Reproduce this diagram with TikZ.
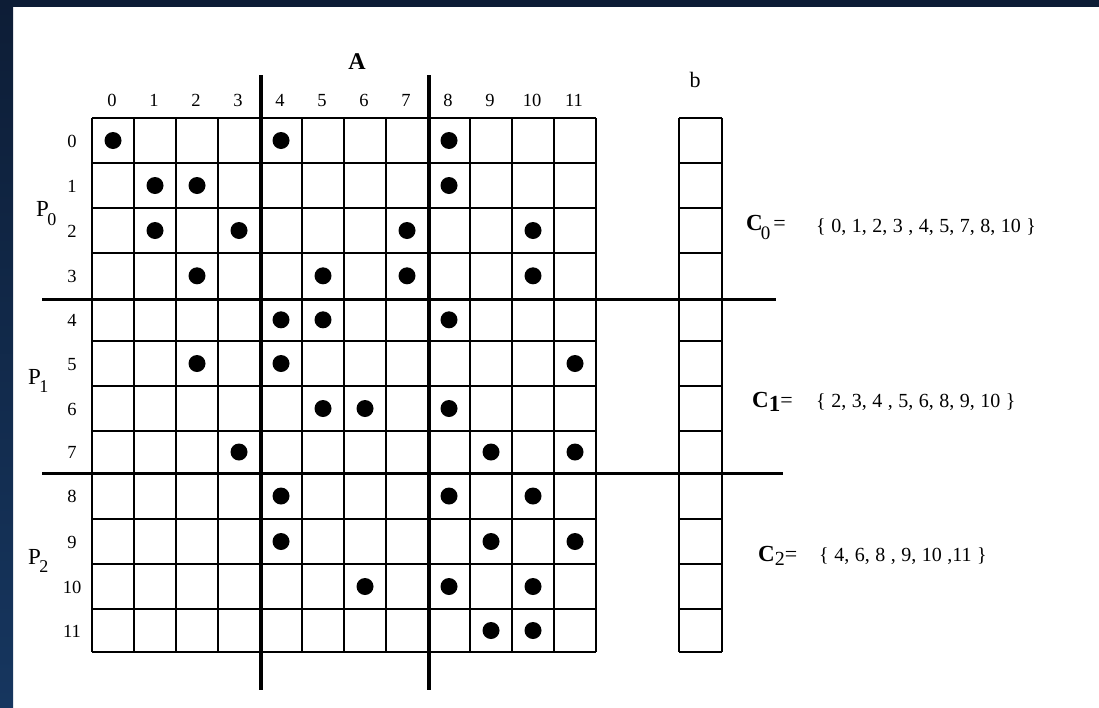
\documentclass[tikz,border=0pt]{standalone}
\usepackage{fontspec}
\setmainfont{Liberation Serif}
\definecolor{navytop}{HTML}{0D1D36}
\definecolor{navybot}{HTML}{16365F}
\newcommand{\wsp}{\spaceskip=5.5pt\relax}
\begin{document}
\begin{tikzpicture}[x=1pt,y=-1pt,
  gridline/.style={line width=1.3pt,black},
  thickline/.style={line width=4pt,black},
  hthick/.style={line width=3pt,black},
  dot/.style={circle,fill=black,inner sep=0pt,minimum size=17pt},
  numlab/.style={inner sep=0pt,anchor=base,font=\fontsize{18.5}{18.5}\selectfont},
  setlab/.style={inner sep=0pt,anchor=west,font=\fontsize{20}{20}\selectfont},
  clab/.style={inner sep=0pt,anchor=west,font=\fontsize{23}{23}\selectfont\bfseries},
  plab/.style={inner sep=0pt,anchor=west,font=\fontsize{23}{23}\selectfont}]
\useasboundingbox (0,0) rectangle (1099,707);
\fill[white] (0,0) rectangle (1099,707);
\fill[navytop] (0,0) rectangle (1099,7);
\shade[top color=navytop,bottom color=navybot] (0,0) rectangle (13,707);
% matrix grid
\foreach \y in {118,163,208,253,298.5,341,386,431,473,519,564,609,652}{
  \draw[gridline] (92,\y) -- (596,\y);
  \draw[gridline] (679,\y) -- (722,\y);
}
\foreach \x in {92,134,176,218,302,344,386,470,512,554,596}{
  \draw[gridline] (\x,118) -- (\x,652);
}
\draw[gridline] (679,118) -- (679,652);
\draw[gridline] (722,118) -- (722,652);
% partition lines
\coordinate (v1t) at (261,75);  \coordinate (v1b) at (261,690);
\coordinate (v2t) at (429,75);  \coordinate (v2b) at (429,690);
\coordinate (h1l) at (42,299);  \coordinate (h1r) at (776,299);
\coordinate (h2l) at (42,473);  \coordinate (h2r) at (783,473);
\draw[thickline] (v1t) -- (v1b);
\draw[thickline] (v2t) -- (v2b);
\draw[hthick] (h1l) -- (h1r);
\draw[hthick] (h2l) -- (h2r);
% column labels
\foreach \c in {0,...,11}{
  \node[numlab] (col\c) at ({112+42*\c},106.5) {\c};
}
% row labels and dots
\foreach \r/\y/\cols in {0/140.5/{0,4,8},1/185.5/{1,2,8},2/230.5/{1,3,7,10},3/275.8/{2,5,7,10},
  4/319.8/{4,5,8},5/363.5/{2,4,11},6/408.5/{5,6,8},7/452/{3,9,11},
  8/496/{4,8,10},9/541.5/{4,9,11},10/586.5/{6,8,10},11/630.5/{9,10}}{
  \node[numlab] (row\r) at (72,\y+6.5) {\r};
  \foreach \c in \cols {
    \node[dot] (d\r-\c) at ({113+42*\c},\y) {};
  }
}
% titles
\node[inner sep=0pt,font=\fontsize{24}{24}\selectfont\bfseries] (A) at (357,62) {A};
\node[inner sep=0pt,font=\fontsize{22}{22}\selectfont] (b) at (695,80) {b};
% processor labels
\node[plab] (P0) at (36,214) {P\kern-1.5pt\raisebox{-9pt}{\fontsize{18}{18}\selectfont 0}};
\node[plab] (P1) at (28,381) {P\kern-1.5pt\raisebox{-8pt}{\fontsize{18}{18}\selectfont 1}};
\node[plab] (P2) at (28,561) {P\kern-1.5pt\raisebox{-8pt}{\fontsize{18}{18}\selectfont 2}};
% column sets
\node[clab] (C0) at (746,227) {C\kern-2pt\raisebox{-9pt}{\mdseries\fontsize{19}{19}\selectfont 0}\kern3pt{\mdseries\fontsize{22}{22}\selectfont =}};
\node[setlab] (S0) at (816,227) {\wsp\{ 0, 1, 2, 3 , 4, 5, 7, 8, 10 \}};
\node[clab] (C1) at (752,402) {C\raisebox{-4pt}{1}{\mdseries\fontsize{22}{22}\selectfont =}};
\node[setlab] (S1) at (816,402) {\wsp\{ 2, 3, 4 , 5, 6, 8, 9, 10 \}};
\node[clab] (C2) at (758,556) {C\raisebox{-4pt}{\mdseries\fontsize{20}{20}\selectfont 2}{\mdseries\fontsize{22}{22}\selectfont =}};
\node[setlab] (S2) at (819,556) {\wsp\{ 4, 6, 8 , 9, 10 ,11 \}};
\end{tikzpicture}
\end{document}
